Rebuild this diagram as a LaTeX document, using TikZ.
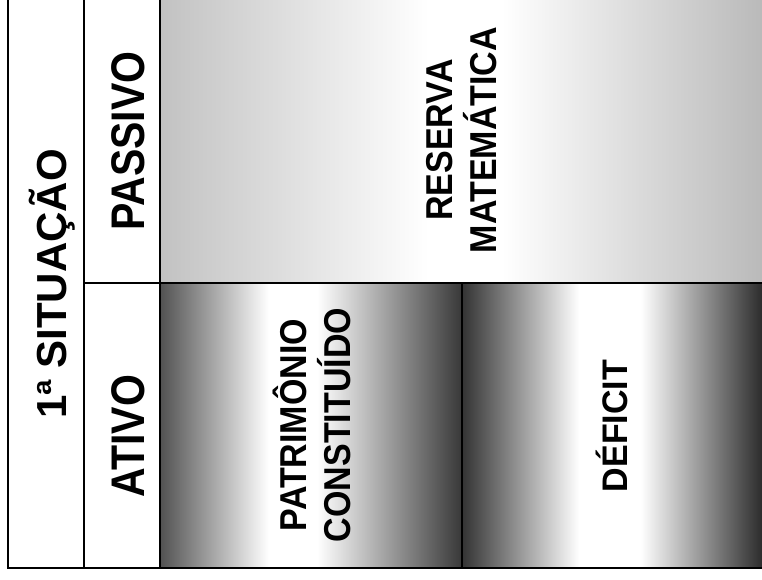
\documentclass[tikz,border=0pt]{standalone}
\usepackage{fontspec}
\setmainfont{Liberation Sans}

% degrades horizontais (escuro - branco - escuro)
\pgfdeclarehorizontalshading{reserva}{100bp}{color(0bp)=(black!24); color(25bp)=(black!24); color(47bp)=(white); color(53bp)=(white); color(75bp)=(black!28); color(100bp)=(black!28)}
\pgfdeclarehorizontalshading{patrimonio}{100bp}{color(0bp)=(black!68); color(25bp)=(black!68); color(43bp)=(white); color(51bp)=(white); color(75bp)=(black!78); color(100bp)=(black!78)}
\pgfdeclarehorizontalshading{deficit}{100bp}{color(0bp)=(black!80); color(25bp)=(black!80); color(44bp)=(white); color(54bp)=(white); color(75bp)=(black!88); color(100bp)=(black!88)}

\begin{document}
\begin{tikzpicture}[
    x=1pt, y=-1pt,
    linha/.style = {line width=1.8pt},
    titulo/.style = {rotate=90, anchor=base, inner sep=0pt, font=\fontsize{42}{42}\selectfont\bfseries},
    cabecalho/.style = {rotate=90, yscale=1.15, anchor=base, inner sep=0pt, font=\fontsize{41}{41}\selectfont\bfseries},
    rotulo/.style = {rotate=90, yscale=1.1, align=center, inner sep=0pt, font=\fontsize{34}{40}\selectfont\bfseries}
]
    \useasboundingbox (0,0) rectangle (762,580);

    % --- Fundos degrades ---
    \fill[shading=reserva] (160,-5) rectangle (770,283);
    \fill[shading=patrimonio] (160,283) rectangle (462,568);
    \fill[shading=deficit] (462,283) rectangle (770,568);

    % --- Linhas da tabela ---
    \draw[linha] (8,-5) -- (8,568) -- (770,568);
    \draw[linha] (84,-5) -- (84,568);
    \draw[linha] (160,-5) -- (160,568);
    \draw[linha] (84,283) -- (770,283);
    \draw[linha] (462,283) -- (462,568);

    % --- Textos ---
    \node[titulo] (situacao) at (66,284) {1ª SITUAÇÃO};
    \node[cabecalho] (passivo) at (144,141) {PASSIVO};
    \node[cabecalho] (ativo) at (144,436) {ATIVO};

    \node[rotulo] (reserva) at (462,140) {RESERVA\\MATEMÁTICA};
    \node[rotulo] (patrim) at (312,425) {PATRIMÔNIO\\CONSTITUÍDO};
    \node[rotulo, yscale=0.95] (deficit) at (612,426) {DÉFICIT};
\end{tikzpicture}
\end{document}
